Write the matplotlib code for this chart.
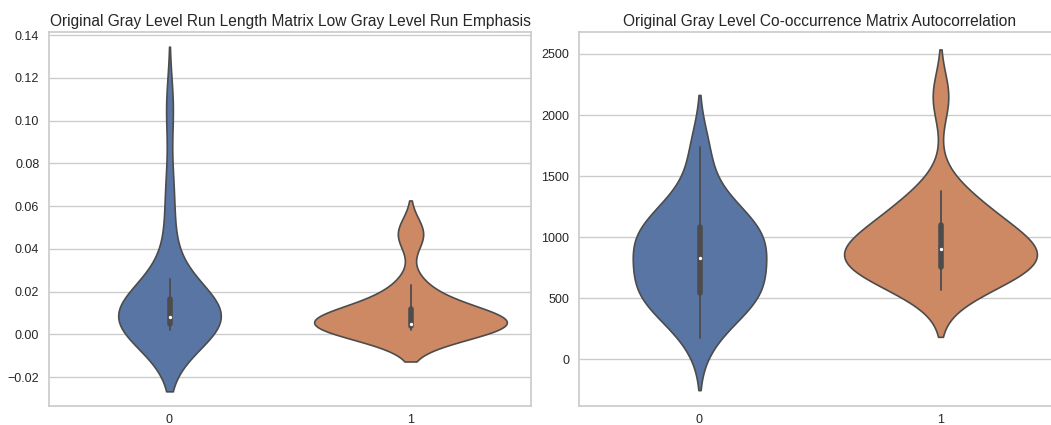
import numpy as np
import pandas as pd
import matplotlib
matplotlib.use("Agg")
import matplotlib.pyplot as plt
import seaborn as sns

# class labels 0 / 1 (box, whiskers, tails)
labels = [0, 1]

lglre_0 = [0.002, 0.003, 0.004, 0.005, 0.005, 0.005, 0.006, 0.007, 0.007, 0.008,
           0.008, 0.010, 0.012, 0.014, 0.016, 0.019, 0.026, 0.045, 0.068, 0.106]
lglre_1 = [0.002, 0.003, 0.003, 0.004, 0.004, 0.004, 0.004, 0.005, 0.005, 0.005,
           0.005, 0.006, 0.007, 0.009, 0.011, 0.014, 0.018, 0.023, 0.046, 0.048]

autocorr_0 = [170, 360, 440, 480, 520, 545, 600, 680, 750, 800,
              860, 920, 970, 1010, 1070, 1110, 1150, 1240, 1420, 1740]
autocorr_1 = [570, 620, 680, 720, 740, 760, 790, 830, 860, 890,
              910, 940, 980, 1030, 1090, 1140, 1200, 1290, 1380, 2150]

titles = ["Original Gray Level Run Length Matrix Low Gray Level Run Emphasis",
          "Original Gray Level Co-occurrence Matrix Autocorrelation"]

sns.set_theme(style="whitegrid")
plt.rcParams['font.family'] = ['Liberation Sans', 'DejaVu Sans']
plt.rcParams['axes.titlesize'] = 11.2
plt.rcParams['xtick.labelsize'] = 9
plt.rcParams['ytick.labelsize'] = 9
plt.rcParams['xtick.major.size'] = 0
plt.rcParams['ytick.major.size'] = 0
plt.rcParams['xtick.major.pad'] = 5.5
plt.rcParams['ytick.major.pad'] = 7


def make_frame(vals0, vals1):
    df = pd.DataFrame({'label': [labels[0]] * len(vals0) + [labels[1]] * len(vals1),
                       'value': list(vals0) + list(vals1)})
    return df


fig = plt.figure(figsize=(10.51, 4.25), dpi=100)
W, H = 1051, 425
ax1 = fig.add_axes([49 / W, (H - 406) / H, 482 / W, 374 / H])
ax2 = fig.add_axes([579 / W, (H - 406) / H, 482 / W, 374 / H])

for ax, (v0, v1), title in zip([ax1, ax2],
                               [(lglre_0, lglre_1), (autocorr_0, autocorr_1)],
                               titles):
    df = make_frame(v0, v1)
    sns.violinplot(data=df, x='label', y='value', hue='label',
                   palette=['#4c72b0', '#dd8452'], legend=False, ax=ax,
                   common_norm=True, linewidth=1.2,
                   inner_kws={'box_width': 4, 'whis_width': 1.3,
                              'marker': 'o', 'markersize': 1.6})
    ax.set_title(title, pad=4)
    ax.set_xlabel('')
    ax.set_ylabel('')

ax1.set_ylim(-0.0335, 0.1415)
ax1.set_yticks([-0.02, 0.0, 0.02, 0.04, 0.06, 0.08, 0.10, 0.12, 0.14])
ax2.set_ylim(-384, 2680)
ax2.set_yticks([0, 500, 1000, 1500, 2000, 2500])

fig.savefig('out.png', dpi=100)
